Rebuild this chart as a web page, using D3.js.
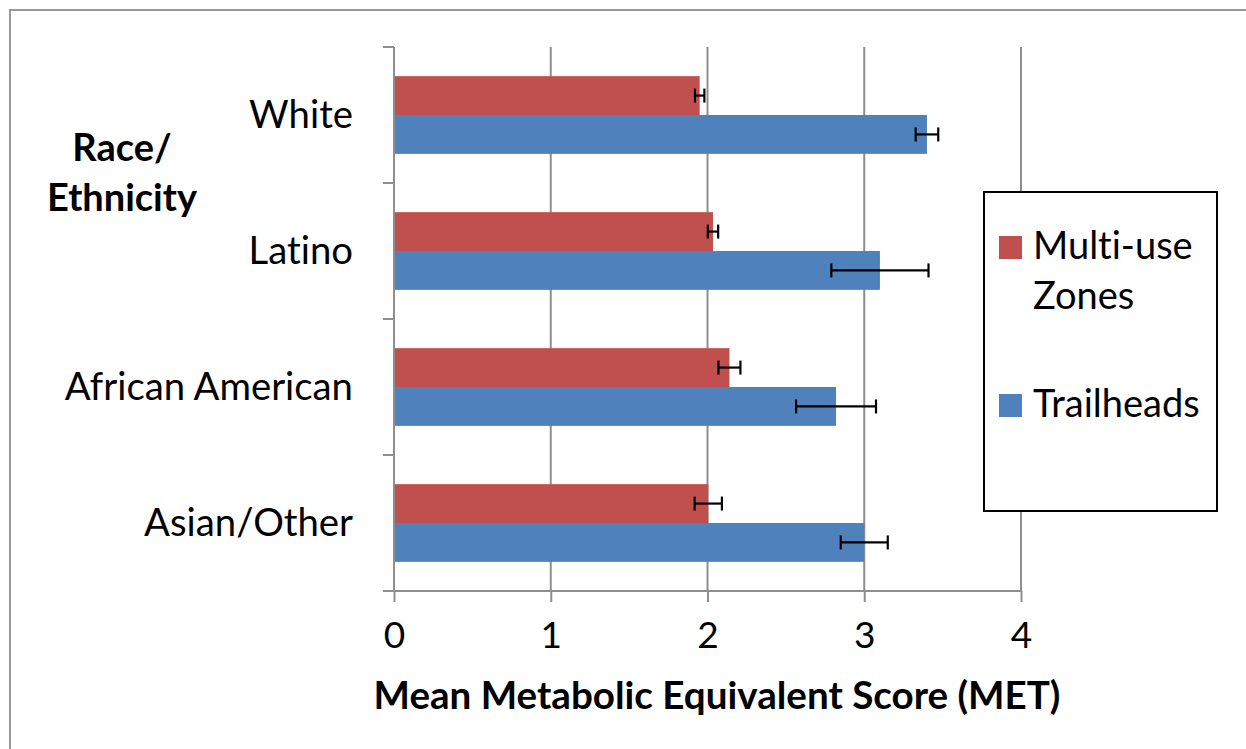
<!DOCTYPE html>
<html><head><meta charset="utf-8">
<script src="https://cdn.jsdelivr.net/npm/d3@7/dist/d3.min.js"></script>
<style>body{margin:0;background:#fff}svg{display:block}text{font-family:Lato,"Open Sans",sans-serif;fill:#000;font-variant-ligatures:none;font-feature-settings:"liga" 0}</style>
</head><body>
<svg id="c" width="1246" height="749"></svg>
<script>
const categories = ["White", "Latino", "African American", "Asian/Other"];
const seriesNames = ["Multi-use Zones", "Trailheads"];
const multiUse = [1.95, 2.035, 2.14, 2.005];
const multiUseErr = [0.03, 0.033, 0.07, 0.087];
const trailheads = [3.40, 3.10, 2.82, 3.00];
const trailheadsErr = [0.072, 0.31, 0.255, 0.15];
const xTicks = [0, 1, 2, 3, 4];
const colors = ["#c0504d", "#4f81bd"];

const svg = d3.select("#c");
const plot = {left: 394, right: 1021, top: 47, bottom: 591};

// outer frame (only top/left visible)
svg.append("rect").attr("x", 10).attr("y", 10).attr("width", 1300).attr("height", 800)
  .attr("fill", "#fff").attr("stroke", "#999").attr("stroke-width", 2);

const x = d3.scaleLinear().domain([0, 4]).range([plot.left, plot.right]);
const y = d3.scaleBand().domain(categories).range([plot.top, plot.bottom]).padding(0);
const ySub = d3.scaleBand().domain(seriesNames).range([0, y.bandwidth()]).paddingInner(0).paddingOuter(0.75);

// gridlines
svg.append("g").selectAll("line").data(xTicks.filter(d => d > 0)).join("line")
  .attr("x1", d => x(d)).attr("x2", d => x(d)).attr("y1", plot.top).attr("y2", plot.bottom)
  .attr("stroke", "#8e8e8e").attr("stroke-width", 2);

const data = [];
categories.forEach((c, i) => {
  data.push({cat: c, s: seriesNames[0], v: multiUse[i], e: multiUseErr[i], col: colors[0]});
  data.push({cat: c, s: seriesNames[1], v: trailheads[i], e: trailheadsErr[i], col: colors[1]});
});

// bars
svg.append("g").selectAll("rect").data(data).join("rect")
  .attr("x", x(0)).attr("y", d => y(d.cat) + ySub(d.s))
  .attr("width", d => x(d.v) - x(0)).attr("height", ySub.bandwidth())
  .attr("fill", d => d.col);

// y axis (left)
svg.append("line").attr("x1", x(0)).attr("x2", x(0)).attr("y1", plot.top).attr("y2", plot.bottom)
  .attr("stroke", "#8e8e8e").attr("stroke-width", 2);
const boundaries = categories.map(c => y(c)).concat([plot.bottom]);
svg.append("g").selectAll("line").data(boundaries).join("line")
  .attr("x1", x(0) - 11).attr("x2", x(0)).attr("y1", d => d).attr("y2", d => d)
  .attr("stroke", "#8e8e8e").attr("stroke-width", 2);

// x axis
const xAxis = d3.axisBottom(x).tickValues(xTicks).tickSize(11).tickSizeOuter(0).tickFormat(d3.format("d")).tickPadding(16);
const gx = svg.append("g").attr("transform", `translate(0,${plot.bottom})`).call(xAxis);
gx.select(".domain").remove();
gx.selectAll(".tick line").attr("stroke", "#8e8e8e").attr("stroke-width", 2);
gx.selectAll(".tick text").attr("font-size", 37).attr("dy", 0).attr("y", 57).style("font-family", "Lato");
svg.append("line").attr("x1", x(0) - 11).attr("x2", plot.right).attr("y1", plot.bottom).attr("y2", plot.bottom)
  .attr("stroke", "#8e8e8e").attr("stroke-width", 2);

// error bars
const cap = 7;
const eg = svg.append("g").attr("stroke", "#000").attr("stroke-width", 2.2);
data.forEach(d => {
  const cy = y(d.cat) + ySub(d.s) + ySub.bandwidth() / 2;
  eg.append("line").attr("x1", x(d.v - d.e)).attr("x2", x(d.v + d.e)).attr("y1", cy).attr("y2", cy);
  eg.append("line").attr("x1", x(d.v - d.e)).attr("x2", x(d.v - d.e)).attr("y1", cy - cap).attr("y2", cy + cap);
  eg.append("line").attr("x1", x(d.v + d.e)).attr("x2", x(d.v + d.e)).attr("y1", cy - cap).attr("y2", cy + cap);
});

// category labels
svg.append("g").selectAll("text").data(categories).join("text")
  .attr("x", 353).attr("y", d => y(d) + y.bandwidth() / 2 + 13)
  .attr("text-anchor", "end").attr("font-size", 38.3).text(d => d);

// y axis title
const yt = svg.append("text").attr("text-anchor", "middle").attr("font-size", 38).attr("font-weight", "bold");
yt.append("tspan").attr("x", 122).attr("y", 161).text("Race/");
yt.append("tspan").attr("x", 122).attr("y", 211).text("Ethnicity");

// x axis title
svg.append("text").attr("x", 717).attr("y", 709).attr("text-anchor", "middle")
  .attr("font-size", 38.6).attr("font-weight", "bold").text("Mean Metabolic Equivalent Score (MET)");

// legend
const lg = svg.append("g");
lg.append("rect").attr("x", 984).attr("y", 192).attr("width", 233).attr("height", 319)
  .attr("fill", "#fff").attr("stroke", "#000").attr("stroke-width", 2);
const legendRows = [
  {lines: ["Multi-use", "Zones"], col: colors[0], sy: 236},
  {lines: ["Trailheads"], col: colors[1], sy: 394}
];
legendRows.forEach(r => {
  lg.append("rect").attr("x", 999).attr("y", r.sy).attr("width", 23).attr("height", 23).attr("fill", r.col);
  r.lines.forEach((t, j) => {
    lg.append("text").attr("x", 1033).attr("y", r.sy + 23 + j * 50).attr("font-size", 38).text(t);
  });
});
</script>
</body></html>
